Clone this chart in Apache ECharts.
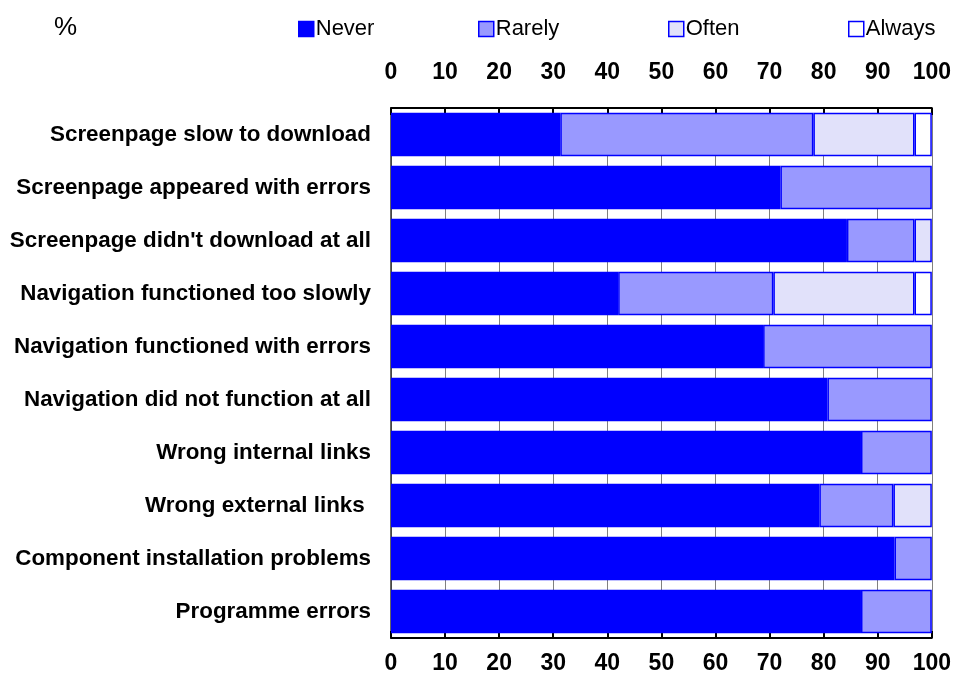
<!DOCTYPE html>
<html>
<head>
<meta charset="utf-8">
<script src="https://cdn.jsdelivr.net/npm/echarts@6/dist/echarts.min.js"></script>
<style>
  html, body { margin: 0; padding: 0; background: #fff; }
  #chart { width: 954px; height: 677px; }
</style>
</head>
<body>
<div id="chart"></div>
<script>
// Problems encountered, share of respondents (%)
var categories = [
  'Screenpage slow to download',
  'Screenpage appeared with errors',
  "Screenpage didn't download at all",
  'Navigation functioned too slowly',
  'Navigation functioned with errors',
  'Navigation did not function at all',
  'Wrong internal links',
  'Wrong external links ',
  'Component installation problems',
  'Programme errors'
];
var seriesNames = ['Never', 'Rarely', 'Often', 'Always'];
var never  = [31.3, 72.0, 84.3, 42.0, 68.8, 80.7, 86.9, 79.2, 93.1, 86.9];
var rarely = [46.8, 28.0, 12.5, 28.7, 31.2, 19.3, 13.1, 13.7,  6.9, 13.1];
var often  = [18.7,  0.0,  3.2, 26.1,  0.0,  0.0,  0.0,  7.1,  0.0,  0.0];
var always = [ 3.2,  0.0,  0.0,  3.2,  0.0,  0.0,  0.0,  0.0,  0.0,  0.0];
var tickValues = [0, 10, 20, 30, 40, 50, 60, 70, 80, 90, 100];

var fills = ['#0000ff', '#9999ff', '#e1e1fa', '#ffffff'];
var values = [never, rarely, often, always];

var chart = echarts.init(document.getElementById('chart'), null, { renderer: 'canvas' });

var font = 'Liberation Sans, Arial, Helvetica, sans-serif';

function xAxisDef(position, margin, showGrid) {
  return {
    type: 'value',
    position: position,
    min: tickValues[0],
    max: tickValues[tickValues.length - 1],
    interval: tickValues[1] - tickValues[0],
    axisLine: { show: true, onZero: false, lineStyle: { color: '#000', width: 2 } },
    axisTick: { show: true, inside: true, length: 7, lineStyle: { color: '#000', width: 2 } },
    axisLabel: {
      show: true, margin: margin, color: '#000',
      fontFamily: font, fontWeight: 'bold', fontSize: 23
    },
    splitLine: { show: showGrid, lineStyle: { color: '#808080', width: 1 } }
  };
}

var series = seriesNames.map(function (name, i) {
  return {
    name: name,
    type: 'bar',
    stack: 'total',
    xAxisIndex: 0,
    barCategoryGap: '18%',
    itemStyle: { color: fills[i], borderColor: '#0000ff', borderWidth: 1.5 },
    data: values[i].map(function (v) { return v === 0 ? null : v; })
  };
});

var legendLefts = [293, 473, 663, 843];
var legends = seriesNames.map(function (name, i) {
  return {
    data: [name],
    left: legendLefts[i],
    top: 13,
    orient: 'horizontal',
    itemWidth: 15,
    itemHeight: 15,
    itemGap: 0,
    selectedMode: false,
    icon: 'rect',
    itemStyle: { borderColor: '#0000ff', borderWidth: 1.5 },
    textStyle: { fontFamily: font, fontSize: 22, color: '#000', padding: [0, 0, 0, -3] }
  };
});

chart.setOption({
  animation: false,
  backgroundColor: '#fff',
  legend: legends,
  grid: { left: 391, right: 22, top: 108, bottom: 39, containLabel: false },
  xAxis: [xAxisDef('top', 24, true), xAxisDef('bottom', 14, false)],
  yAxis: {
    type: 'category',
    inverse: true,
    data: categories,
    axisLine: { show: true, lineStyle: { color: '#333', width: 1.5 } },
    axisTick: { show: false },
    axisLabel: {
      margin: 20, color: '#000',
      fontFamily: font, fontWeight: 'bold', fontSize: 22.4
    },
    splitLine: { show: false }
  },
  graphic: [{
    type: 'text',
    left: 54, top: 15,
    style: { text: '%', fontFamily: font, fontSize: 26, fill: '#000' }
  }],
  series: series
});
</script>
</body>
</html>
